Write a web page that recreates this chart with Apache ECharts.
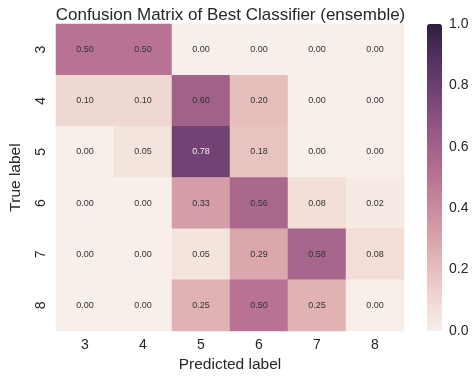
<!DOCTYPE html>
<html>
<head>
<meta charset="utf-8">
<script src="https://cdn.jsdelivr.net/npm/echarts@6/dist/echarts.min.js"></script>
<style>html,body{margin:0;padding:0;background:#fff}#c{width:475px;height:378px}</style>
</head>
<body>
<div id="c"></div>
<script>
var predLabels = ['3','4','5','6','7','8'];
var trueLabels = ['3','4','5','6','7','8'];
var row3 = [0.50, 0.50, 0.00, 0.00, 0.00, 0.00];
var row4 = [0.10, 0.10, 0.60, 0.20, 0.00, 0.00];
var row5 = [0.00, 0.05, 0.78, 0.18, 0.00, 0.00];
var row6 = [0.00, 0.00, 0.33, 0.56, 0.08, 0.02];
var row7 = [0.00, 0.00, 0.05, 0.29, 0.58, 0.08];
var row8 = [0.00, 0.00, 0.25, 0.50, 0.25, 0.00];
var rows = [row3, row4, row5, row6, row7, row8];
var colorTicks = [0.0, 0.2, 0.4, 0.6, 0.8, 1.0];

var data = [];
rows.forEach(function (r, i) {
  r.forEach(function (v, j) {
    data.push({ value: [j, i, v], label: { color: v > 0.7 ? '#f4eef2' : '#333333' } });
  });
});

var txt = '#262626';
var font = '"Liberation Sans", Arial, sans-serif';
var chart = echarts.init(document.getElementById('c'), null, { renderer: 'canvas' });
chart.setOption({
  animation: false,
  textStyle: { fontFamily: font },
  title: {
    text: 'Confusion Matrix of Best Classifier (ensemble)',
    left: 225.5, textAlign: 'center', top: 2,
    textStyle: { fontSize: 17, fontWeight: 'normal', color: txt, fontFamily: font }
  },
  grid: [
    { left: 47, top: 24, width: 357, height: 307 },
    { left: 427, top: 24, width: 15, height: 307 }
  ],
  xAxis: [
    {
      type: 'category', data: predLabels, gridIndex: 0,
      name: 'Predicted label', nameLocation: 'middle', nameGap: 23,
      nameTextStyle: { fontSize: 15.5, color: txt },
      axisLine: { show: false }, axisTick: { show: false }, splitLine: { show: false },
      axisLabel: { fontSize: 14, color: txt, margin: 7 }
    },
    { type: 'value', gridIndex: 1, show: false, min: 0, max: 1 }
  ],
  yAxis: [
    {
      type: 'category', data: trueLabels, gridIndex: 0, inverse: true,
      name: 'True label', nameLocation: 'middle', nameGap: 32,
      nameTextStyle: { fontSize: 15.5, color: txt },
      axisLine: { show: false }, axisTick: { show: false }, splitLine: { show: false },
      axisLabel: { fontSize: 14, color: txt, rotate: 90, margin: 8 }
    },
    {
      type: 'value', gridIndex: 1, min: 0, max: 1, interval: 0.2, position: 'right',
      axisLine: { show: false }, axisTick: { show: false }, splitLine: { show: false },
      axisLabel: { fontSize: 14, color: txt, margin: 7, formatter: function (v) { return v.toFixed(1); } }
    }
  ],
  visualMap: {
    type: 'continuous', min: 0, max: 1, calculable: false, show: true,
    orient: 'vertical', left: 427, top: 24, itemWidth: 15, itemHeight: 307,
    padding: 0, text: ['', ''], showLabel: false, seriesIndex: 0,
    inRange: {
      color: ['#f8efea', '#f0d8d2', '#e6bfbc', '#d9a4ab', '#c98b9f', '#b87392',
              '#a26189', '#88507f', '#6b3f70', '#4e2f5e', '#2d1e3e']
    }
  },
  series: [{
    type: 'heatmap', xAxisIndex: 0, yAxisIndex: 0, data: data,
    label: {
      show: true, fontSize: 9, fontFamily: font,
      formatter: function (p) { return p.value[2].toFixed(2); }
    },
    itemStyle: { borderWidth: 0 },
    emphasis: { disabled: true }
  }]
});
</script>
</body>
</html>
